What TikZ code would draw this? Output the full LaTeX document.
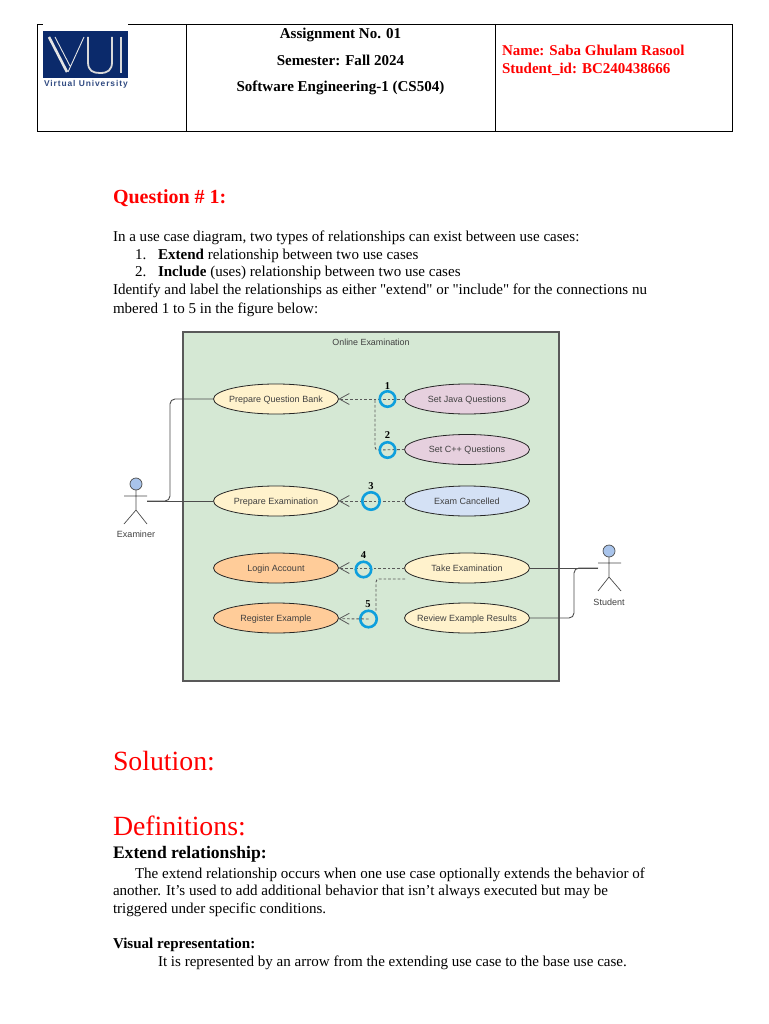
\documentclass[tikz,border=0pt]{standalone}
\usepackage{fontspec}
\setmainfont{Liberation Serif}[Ligatures=TeXOff]
\setsansfont{Liberation Sans}
\usetikzlibrary{arrows.meta,shapes.geometric}
\definecolor{frame}{HTML}{D5E8D4}
\definecolor{cream}{HTML}{FFF2CC}
\definecolor{peach}{HTML}{FFCC99}
\definecolor{mauve}{HTML}{E6D0DE}
\definecolor{sky}{HTML}{D4E1F5}
\definecolor{actor}{HTML}{A9C4EB}
\definecolor{ring}{HTML}{0E9FDD}
\definecolor{navy}{HTML}{0B2A6B}
\definecolor{redtext}{HTML}{FF0000}
\begin{document}
\begin{tikzpicture}[x=1pt,y=-1pt,>=Latex,
  every node/.style={inner sep=0pt,outer sep=0pt},
  usecase/.style={ellipse,draw=black!85,line width=.8pt,inner xsep=-12pt,text height=6.5pt,text depth=0pt,minimum width=125pt,minimum height=30pt,font=\sffamily\fontsize{9}{11}\selectfont,text=black!75},
  numring/.style={circle,draw=ring,line width=2.6pt,minimum size=15.5pt},
  numtag/.style={font=\fontsize{10.5}{11}\selectfont\bfseries},
  incl/.style={dashed,dash pattern=on 2.7pt off 2pt,black!65,line width=.9pt},
  incltip/.style={-{Straight Barb[length=10pt,width=11pt,line width=.8pt]}},
  assoc/.style={black!70,line width=.9pt,rounded corners=5pt},
  stick/.style={black!70,line width=.7pt},
  body/.style={anchor=base west,font=\fontsize{15.05}{17}\selectfont},
  head/.style={anchor=base,font=\fontsize{15.05}{17}\selectfont\bfseries},
  redhead/.style={anchor=base west,text=redtext,font=\fontsize{15}{17}\selectfont\bfseries},
  bigred/.style={anchor=base west,text=redtext,font=\fontsize{27.8}{30}\selectfont},
  smalllabel/.style={font=\sffamily\fontsize{9}{10}\selectfont,text=black!75}]
\useasboundingbox (0,0) rectangle (768,1024);
\fill[white] (0,0) rectangle (768,1024);
\draw[black,line width=.9pt] (37,24) rectangle (732,131);
\draw[black,line width=.9pt] (186,24)--(186,131) (495,24)--(495,131);
\fill[white] (43,20) rectangle (128,30);
\fill[navy] (43,31) rectangle (128,78);
\draw[white!90!black,line width=2.6pt] (49,37)--(67,72);
\draw[white!90!black,line width=.9pt] (55,37)--(70,66) (68,72)--(84,37);
\draw[white!85!black,line width=1.8pt] (88,37)--(88,62) .. controls (88,71) and (93,73) .. (100,73) .. controls (108,73) and (112,70) .. (112,62)--(112,37);
\draw[white!85!black,line width=2.4pt] (121,37)--(121,73);
\node[anchor=base west,text=navy!85,font=\sffamily\bfseries\fontsize{8.4}{9}\selectfont\addfontfeature{LetterSpace=11}] (logotext) at (44,87) {Virtual University};
\node[head] (title1) at (340.5,38.5) {Assignment No. 01};
\node[head] (title2) at (340.5,65.5) {Semester: Fall 2024};
\node[head] (title3) at (340.5,91.5) {Software Engineering-1 (CS504)};
\node[redhead] (who1) at (502,56) {Name: Saba Ghulam Rasool};
\node[redhead] (who2) at (502,73.5) {Student\_id: BC240438666};
\node[anchor=base west,text=redtext,font=\fontsize{20}{22}\selectfont\bfseries] (question) at (113,204) {Question \# 1:};
\node[body] (intro) at (113,241) {In a use case diagram, two types of relationships can exist between use cases:};
\node[body] (num1) at (135,259) {1.};
\node[body] (item1) at (158,259) {\textbf{Extend} relationship between two use cases};
\node[body] (num2) at (135,276) {2.};
\node[body] (item2) at (158,276) {\textbf{Include} (uses) relationship between two use cases};
\node[body] (ident1) at (113,294) {Identify and label the relationships as either "extend" or "include" for the connections nu};
\node[body] (ident2) at (113,313) {mbered 1 to 5 in the figure below:};
\node[draw=black!65,fill=frame,line width=1.1pt,minimum width=376pt,minimum height=349pt,anchor=north west] (system) at (183,332) {};
\node[font=\sffamily\fontsize{8.9}{10}\selectfont,text=black!75] (systitle) at (371,342) {Online Examination};
\node[usecase,fill=cream] (bank) at (276,399) {Prepare Question Bank};
\node[usecase,fill=mauve] (java) at (467,399) {Set Java Questions};
\node[usecase,fill=mauve] (cpp) at (467,449.5) {Set C++ Questions};
\node[usecase,fill=cream] (exam) at (276,501) {Prepare Examination};
\node[usecase,fill=sky] (cancel) at (467,501) {Exam Cancelled};
\node[usecase,fill=peach] (login) at (276,568) {Login Account};
\node[usecase,fill=cream] (take) at (467,568) {Take Examination};
\node[usecase,fill=peach] (register) at (276,618) {Register Example};
\node[usecase,fill=cream] (review) at (467,618) {Review Example Results};
\coordinate (join2) at (375,399);
\coordinate (bend2) at (375,450);
\coordinate (takeb) at (405,579);
\coordinate (bend5) at (376,579);
\coordinate (end5) at (376,612);
\coordinate (examinerhand) at (147,501);
\coordinate (studenthand) at (598,568);
\draw[incl,incltip] (java)--(bank);
\draw[incl,rounded corners=3pt] (cpp.west)--(bend2)--(join2);
\draw[incl,incltip] (cancel)--(exam);
\draw[incl,incltip] (take)--(login);
\draw[incl,rounded corners=3pt] (takeb)--(bend5)--(end5);
\node[numring] (ring1) at (387.5,399) {};
\node[numring] (ring2) at (387.5,450) {};
\node[numring,minimum size=17.5pt] (ring3) at (371,501) {};
\node[numring] (ring4) at (363.5,569.5) {};
\node[numring,minimum size=16.5pt] (ring5) at (368.5,619) {};
\draw[incl,incltip] (ring5.center)--(register);
\node[numtag] (tag1) at (387.5,386) {1};
\node[numtag] (tag2) at (387.5,435) {2};
\node[numtag] (tag3) at (371,486) {3};
\node[numtag] (tag4) at (363.5,555.5) {4};
\node[numtag] (tag5) at (368,604.5) {5};
\node[circle,draw=black!70,fill=actor,line width=.7pt,minimum size=12pt] (examiner) at (136,484) {};
\draw[stick] (examiner)--(136,510) (124,496)--(147,496) (124,524)--(136,510)--(147,524);
\node[smalllabel] (examinername) at (136,534.5) {Examiner};
\node[circle,draw=black!70,fill=actor,line width=.7pt,minimum size=12pt] (student) at (609,551) {};
\draw[stick] (student)--(609,577) (598,563)--(621,563) (598,591)--(609,577)--(621,591);
\node[smalllabel] (studentname) at (609,602) {Student};
\draw[assoc] (examinerhand)--(170,501)--(170,399)--(bank.west);
\draw[assoc] (examinerhand)--(exam.west);
\draw[assoc] (take.east)--(studenthand);
\draw[assoc] (review.east)--(574,618)--(574,568)--(studenthand);
\node[bigred] (solution) at (113,770) {Solution:};
\node[bigred] (definitions) at (113,835) {Definitions:};
\node[anchor=base west,font=\fontsize{17.6}{19}\selectfont\bfseries] (extendhead) at (113,858) {Extend relationship:};
\node[body] (para1) at (135,878) {The extend relationship occurs when one use case optionally extends the behavior of};
\node[body] (para2) at (113,895) {another. It’s used to add additional behavior that isn’t always executed but may be};
\node[body] (para3) at (113,913) {triggered under specific conditions.};
\node[body,font=\fontsize{15.05}{17}\selectfont\bfseries] (visualhead) at (113,948) {Visual representation:};
\node[body] (visual) at (158,966) {It is represented by an arrow from the extending use case to the base use case.};
\end{tikzpicture}
\end{document}
